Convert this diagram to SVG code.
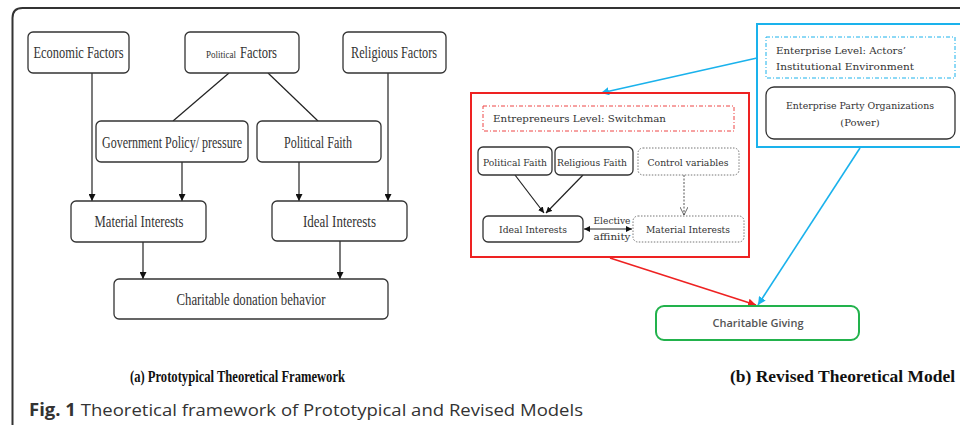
<svg xmlns="http://www.w3.org/2000/svg" width="960" height="425" viewBox="0 0 960 425">
<defs>
<style>
.bx{fill:#fff;stroke:#333;stroke-width:1.3}
.ln{stroke:#222;stroke-width:1.2;fill:none}
.t{font-family:"Liberation Serif",serif;font-size:16px;fill:#333;text-anchor:middle}
.r{font-family:"DejaVu Serif","Liberation Serif",serif;font-size:10px;fill:#333}
.rc{text-anchor:middle}
.cap{font-family:"Liberation Serif",serif;font-size:16px;font-weight:bold;fill:#111}
</style>
<marker id="ah" viewBox="0 0 10 10" refX="10" refY="5" markerWidth="7" markerHeight="7" orient="auto-start-reverse" markerUnits="userSpaceOnUse"><path d="M0,0 L10,5 L0,10 z" fill="#111"/></marker>
<marker id="ahs" viewBox="0 0 10 10" refX="10" refY="5" markerWidth="6" markerHeight="6" orient="auto-start-reverse" markerUnits="userSpaceOnUse"><path d="M0,0 L10,5 L0,10 z" fill="#111"/></marker>
<marker id="av" viewBox="0 0 10 10" refX="10" refY="5" markerWidth="8" markerHeight="8" orient="auto" markerUnits="userSpaceOnUse"><path d="M0,0 L10,5 L0,10" fill="none" stroke="#444" stroke-width="1"/></marker>
<marker id="ab" viewBox="0 0 10 10" refX="10" refY="5" markerWidth="8" markerHeight="8" orient="auto" markerUnits="userSpaceOnUse"><path d="M0,0 L10,5 L0,10 z" fill="#1ab2ec"/></marker>
<marker id="ar" viewBox="0 0 10 10" refX="10" refY="5" markerWidth="8" markerHeight="8" orient="auto" markerUnits="userSpaceOnUse"><path d="M0,0 L10,5 L0,10 z" fill="#ee2222"/></marker>
</defs>
<rect width="960" height="425" fill="#fff"/>
<path d="M12.5,430 V18 Q12.5,8 22.5,8 H970" fill="none" stroke="#333" stroke-width="2"/>

<g id="connectors">
<line class="ln" x1="92" y1="73" x2="92" y2="201" marker-end="url(#ah)"/>
<line class="ln" x1="182" y1="162" x2="182" y2="201" marker-end="url(#ah)"/>
<line class="ln" x1="299" y1="162" x2="299" y2="201" marker-end="url(#ah)"/>
<line class="ln" x1="388" y1="73" x2="388" y2="201" marker-end="url(#ah)"/>
<line class="ln" x1="229" y1="73" x2="173" y2="121"/>
<line class="ln" x1="268" y1="73" x2="318" y2="121"/>
<line class="ln" x1="143" y1="242" x2="143" y2="279" marker-end="url(#ah)"/>
<line class="ln" x1="340" y1="241" x2="340" y2="279" marker-end="url(#ah)"/>
<line class="ln" x1="515" y1="175" x2="544" y2="213" marker-end="url(#ahs)"/>
<line class="ln" x1="583" y1="175" x2="546" y2="213" marker-end="url(#ahs)"/>
<line x1="684" y1="175" x2="684" y2="215" stroke="#555" stroke-width="1" stroke-dasharray="2,1.5" marker-end="url(#av)"/>
<line class="ln" x1="584" y1="229" x2="632" y2="229" marker-start="url(#ahs)" marker-end="url(#ahs)"/>
<line x1="757" y1="58" x2="601" y2="93" stroke="#1ab2ec" stroke-width="1.6" marker-end="url(#ab)"/>
<line x1="860" y1="148" x2="758" y2="305" stroke="#1ab2ec" stroke-width="1.6" marker-end="url(#ab)"/>
<line x1="610" y1="258" x2="756" y2="305" stroke="#ee2222" stroke-width="1.6" marker-end="url(#ar)"/>
</g>

<g id="economic"><rect class="bx" x="28" y="32" width="101" height="41" rx="5"/><text class="t" x="78.5" y="58" textLength="90" lengthAdjust="spacingAndGlyphs">Economic Factors</text></g>
<g id="political"><rect class="bx" x="185" y="32" width="114" height="41" rx="5"/><text class="t" x="206" y="58" style="text-anchor:start;font-size:11px" textLength="30" lengthAdjust="spacingAndGlyphs">Political</text><text class="t" x="240" y="58" style="text-anchor:start" textLength="37" lengthAdjust="spacingAndGlyphs">Factors</text></g>
<g id="religious"><rect class="bx" x="343" y="32" width="103" height="41" rx="5"/><text class="t" x="394" y="58" textLength="86" lengthAdjust="spacingAndGlyphs">Religious Factors</text></g>
<g id="govpolicy"><rect class="bx" x="96" y="121" width="152" height="41" rx="5"/><text class="t" x="172" y="148" textLength="140" lengthAdjust="spacingAndGlyphs">Government Policy/ pressure</text></g>
<g id="polfaith"><rect class="bx" x="257" y="121" width="124" height="41" rx="5"/><text class="t" x="318" y="148" textLength="68" lengthAdjust="spacingAndGlyphs">Political Faith</text></g>
<g id="material"><rect class="bx" x="71" y="201" width="135" height="41" rx="5"/><text class="t" x="139" y="227" textLength="89" lengthAdjust="spacingAndGlyphs">Material Interests</text></g>
<g id="ideal"><rect class="bx" x="272" y="201" width="135" height="40" rx="5"/><text class="t" x="339.5" y="227" textLength="73" lengthAdjust="spacingAndGlyphs">Ideal Interests</text></g>
<g id="charitable"><rect class="bx" x="114" y="279" width="274" height="40" rx="5"/><text class="t" x="251" y="305" textLength="149" lengthAdjust="spacingAndGlyphs">Charitable donation behavior</text></g>

<g id="enterprise"><rect x="757" y="24" width="210" height="123" fill="none" stroke="#1ab2ec" stroke-width="2"/>
<rect x="766" y="37" width="189" height="41" fill="none" stroke="#1ab2ec" stroke-width="1" stroke-dasharray="4,2,1,2"/>
<text class="r" x="776" y="54" textLength="130" lengthAdjust="spacingAndGlyphs">Enterprise Level: Actors’</text>
<text class="r" x="776" y="70" textLength="138" lengthAdjust="spacingAndGlyphs">Institutional Environment</text></g>
<g id="party"><rect class="bx" x="766" y="87" width="189" height="52" rx="8"/>
<text class="r rc" x="860" y="109" textLength="148" lengthAdjust="spacingAndGlyphs">Enterprise Party Organizations</text>
<text class="r rc" x="860" y="126">(Power)</text></g>

<g id="entrepreneurs"><rect x="471" y="93" width="278" height="164" fill="none" stroke="#ee2222" stroke-width="2"/>
<rect x="483" y="106" width="251" height="25" fill="none" stroke="#ee4444" stroke-width="1" stroke-dasharray="4,2,1,2"/>
<text class="r" x="493" y="122" textLength="173" lengthAdjust="spacingAndGlyphs">Entrepreneurs Level: Switchman</text></g>
<g id="r-polfaith"><rect class="bx" x="478" y="147" width="74" height="28" rx="5"/><text class="r rc" x="515" y="166" textLength="64" lengthAdjust="spacingAndGlyphs">Political Faith</text></g>
<g id="r-relfaith"><rect class="bx" x="555" y="147" width="78" height="28" rx="5"/><text class="r rc" x="592" y="166" textLength="70" lengthAdjust="spacingAndGlyphs">Religious Faith</text></g>
<g id="r-control"><rect x="638" y="148" width="101" height="27" rx="5" fill="#fff" stroke="#777" stroke-width="1" stroke-dasharray="1.5,1.5"/><text class="r rc" x="688" y="166" textLength="81" lengthAdjust="spacingAndGlyphs">Control variables</text></g>
<g id="r-ideal"><rect class="bx" x="483" y="216" width="100" height="26" rx="5"/><text class="r rc" x="533" y="233" textLength="68" lengthAdjust="spacingAndGlyphs">Ideal Interests</text></g>
<g id="r-material"><rect x="633" y="216" width="111" height="26" rx="5" fill="#fff" stroke="#777" stroke-width="1" stroke-dasharray="1.5,1.5"/><text class="r rc" x="688" y="233" textLength="84" lengthAdjust="spacingAndGlyphs">Material Interests</text></g>
<g id="elective"><text class="r rc" x="612" y="224" textLength="37" lengthAdjust="spacingAndGlyphs">Elective</text><text class="r rc" x="612" y="240" textLength="37" lengthAdjust="spacingAndGlyphs">affinity</text></g>

<g id="giving"><rect x="656" y="306" width="203" height="34" rx="8" fill="#fff" stroke="#22b24c" stroke-width="2"/>
<text x="758" y="327" text-anchor="middle" font-family="'Open Sans','Liberation Sans',sans-serif" font-size="10.5" font-weight="600" fill="#555" textLength="91" lengthAdjust="spacingAndGlyphs">Charitable Giving</text></g>

<g id="captions">
<text class="cap" x="130" y="382" textLength="215" lengthAdjust="spacingAndGlyphs">(a) Prototypical Theoretical Framework</text>
<text class="cap" x="730" y="382" textLength="225" lengthAdjust="spacingAndGlyphs">(b) Revised Theoretical Model</text>
<text x="29" y="416" font-family="'Open Sans','Liberation Sans',sans-serif" font-size="17" fill="#333" textLength="554" lengthAdjust="spacingAndGlyphs"><tspan font-weight="bold">Fig. 1</tspan> Theoretical framework of Prototypical and Revised Models</text>
</g>
</svg>
